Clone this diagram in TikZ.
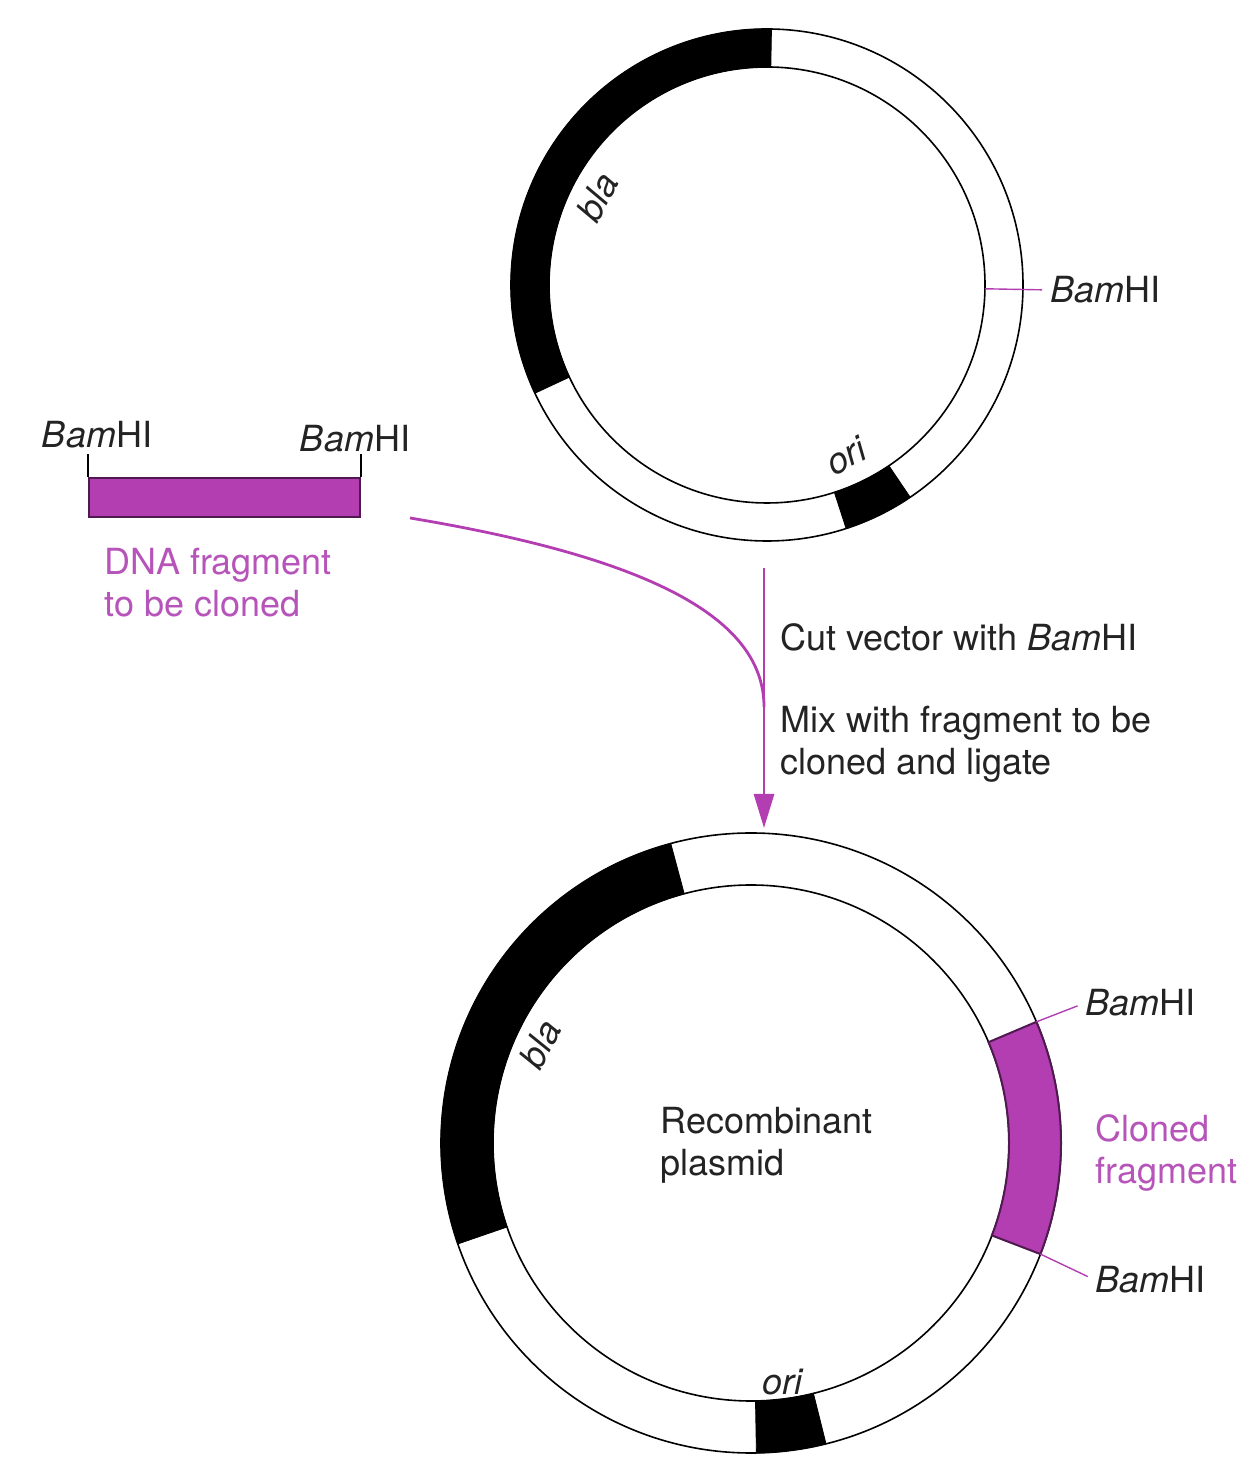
\documentclass[tikz,border=0pt]{standalone}
\usepackage{fontspec}
\setmainfont{TeX Gyre Heros}
\usetikzlibrary{arrows.meta}
\definecolor{plum}{RGB}{178,62,178}
\definecolor{plumdark}{RGB}{80,25,80}
\definecolor{plumtext}{RGB}{182,84,186}
\definecolor{inkgrey}{RGB}{35,35,35}
\tikzstyle{ring} = [line width=0.8pt, draw=black]
\tikzstyle{txt} = [font=\fontsize{18}{21}\selectfont, text=inkgrey, inner sep=0pt]
\tikzstyle{gene} = [txt, font=\fontsize{18}{21}\selectfont\itshape]
\tikzstyle{sitemark} = [line width=0.7pt, draw=plum, shorten >=4pt]
\tikzstyle{flow} = [line width=1.4pt, draw=plum, -{Triangle[length=17pt,width=10pt]}]
\tikzstyle{feed} = [line width=1.4pt, draw=plum]

% annular piece of a plasmid: centre, from, to, inner, outer, style
\newcommand{\ringseg}[6]{%
  \begin{scope}[shift={(#1)}]
    \filldraw[#6] (#2:#4) arc[start angle=#2, end angle=#3, radius=#4]
      -- (#3:#5) arc[start angle=#3, end angle=#2, radius=#5] -- cycle;
  \end{scope}}

\begin{document}
\begin{tikzpicture}[x=0.5pt,y=0.5pt]
\useasboundingbox (0,0) rectangle (1259,1478);

% vector
\coordinate (vec) at (767,1193);
\ringseg{vec}{89}{205}{218}{256}{fill=black}
\ringseg{vec}{-72}{-56}{218}{256}{fill=black}
\draw[ring] (vec) circle[radius=256];
\draw[ring] (vec) circle[radius=218];
\node[gene, rotate=62] (bla0) at (597,1281) {bla};
\node[gene, rotate=28] (ori0) at (846,1022) {ori};
\path (vec) ++(-1:218) coordinate (site0);
\node[txt, anchor=west] (bam0) at (1050,1188) {\textit{Bam}HI};
\draw[sitemark] (site0) -- (bam0.west);

% fragment
\node[draw=plumdark, fill=plum, line width=1pt, minimum width=135.5pt, minimum height=19.5pt, inner sep=0pt] (frag) at (224.5,980.5) {};
\draw[line width=0.6pt] (frag.north west) -- ++(0,23);
\draw[line width=0.6pt] (frag.north east) -- ++(0,23);
\node[txt, anchor=base] (bamL) at (97,1030) {\textit{Bam}HI};
\node[txt, anchor=base] (bamR) at (355,1026) {\textit{Bam}HI};
\node[txt, text=plumtext, anchor=west, align=left] (fragtxt) at (104,895) {DNA fragment\\to be cloned};

% steps
\coordinate (flowtop) at (764,910);
\coordinate (flowend) at (764,650);
\coordinate (fragtail) at (410,960);
\coordinate (join) at (764,771);
\draw[feed] (fragtail) .. controls (650,920) and (764,860) .. (join);
\draw[flow] (flowtop) -- (flowend);
\node[txt, anchor=west] (cut) at (780,841) {Cut vector with \textit{Bam}HI};
\node[txt, anchor=west, align=left] (mix) at (780,734) {Mix with fragment to be\\cloned and ligate};

% recombinant
\coordinate (rec) at (751,335);
\ringseg{rec}{105}{199}{258}{310}{fill=black}
\ringseg{rec}{-89}{-76}{258}{310}{fill=black}
\draw[ring] (rec) circle[radius=310];
\draw[ring] (rec) circle[radius=258];
\ringseg{rec}{-21}{23}{258}{310}{fill=plum, draw=plumdark, line width=1pt}
\node[gene, rotate=63] (bla1) at (540,434) {bla};
\node[gene] (ori1) at (782,96) {ori};
\node[txt, anchor=west, align=left] (rectxt) at (660,333) {Recombinant\\plasmid};
\path (rec) ++(23:310) coordinate (site1);
\path (rec) ++(-21:310) coordinate (site2);
\node[txt, anchor=west] (bam1) at (1085,475) {\textit{Bam}HI};
\node[txt, anchor=west] (bam2) at (1095,198) {\textit{Bam}HI};
\draw[sitemark] (site1) -- (bam1.west);
\draw[sitemark] (site2) -- (bam2.west);
\node[txt, text=plumtext, anchor=west, align=left] (clonetxt) at (1095,325) {Cloned\\fragment};

\end{tikzpicture}
\end{document}
